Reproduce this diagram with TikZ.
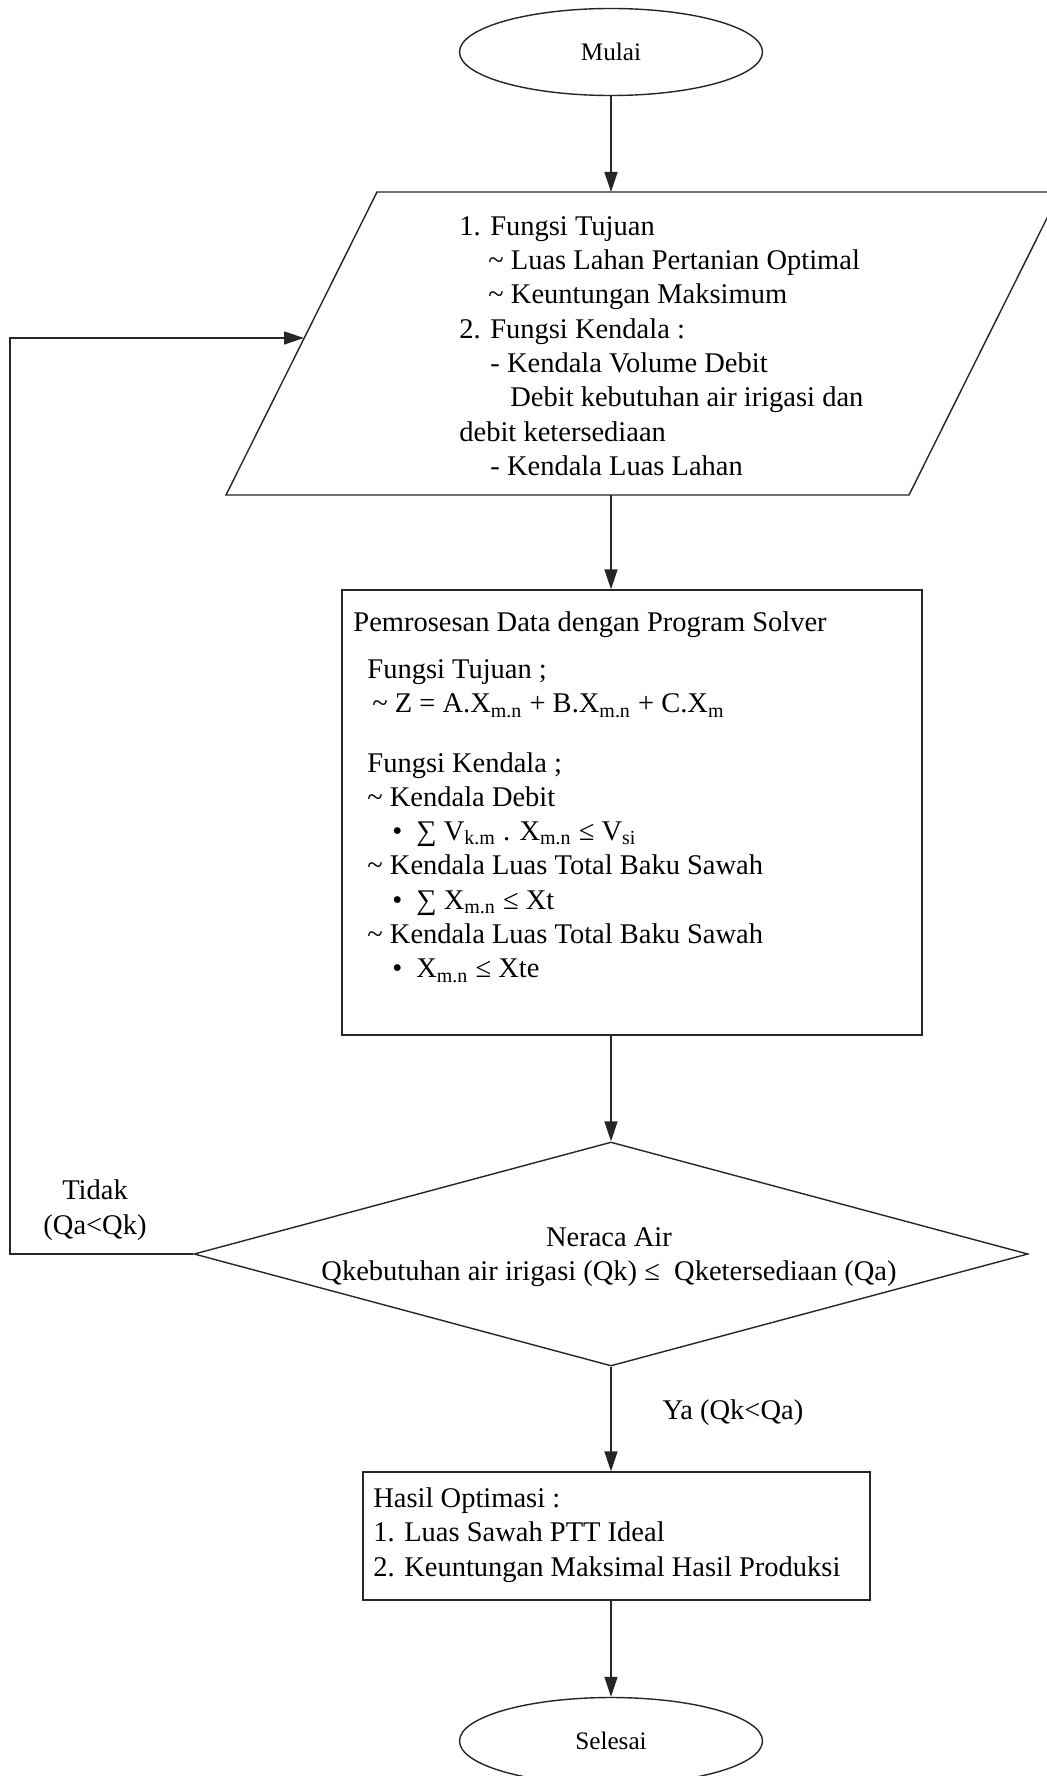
\documentclass[tikz,border=0pt]{standalone}
\usepackage{fontspec}
\setmainfont{Liberation Serif}
\usetikzlibrary{shapes.geometric,arrows.meta}
\begin{document}
\begin{tikzpicture}[x=0.5pt,y=-0.5pt,
  line/.style={line width=0.7pt, draw=black!85},
  arr/.style={line, -{Triangle[length=10pt,width=6.5pt]}},
  term/.style={ellipse, line, minimum width=151.5pt, minimum height=43.5pt, inner sep=0pt, font=\fontsize{12.6}{15}\selectfont},
  txt/.style={inner sep=0pt, align=left, anchor=west, font=\fontsize{14.25}{17.15}\selectfont},
  boxr/.style={rectangle, line, inner sep=0pt},
  ]
\useasboundingbox[fill=white] (0,0) rectangle (1046,1776);

% shapes
\node[term] (mulai) at (611,52) {Mulai};
\draw[line] (377,192) -- (1060,192) -- (909,495) -- (226,495) -- cycle;
\coordinate (ptop) at (611,192);
\coordinate (pbot) at (611,495);
\coordinate (pleft) at (304,338);
\node[boxr, minimum width=290pt, minimum height=222.5pt] (proc) at (632,812.5) {};
\node[diamond, line, minimum width=417pt, minimum height=112pt, inner sep=0pt] (dia) at (611,1254) {};
\node[boxr, minimum width=253.5pt, minimum height=64pt] (hasil) at (616.5,1536) {};
\node[term] (selesai) at (611,1741) {Selesai};

% texts
\node[txt] (ptext) at (459,346) {1. Fungsi Tujuan\\
\hspace*{14.5pt}\textasciitilde\ Luas Lahan Pertanian Optimal\\
\hspace*{14.5pt}\textasciitilde\ Keuntungan Maksimum\\
2. Fungsi Kendala :\\
\hspace*{15.5pt}- Kendala Volume Debit\\
\hspace*{25.5pt}Debit kebutuhan air irigasi dan\\
debit ketersediaan\\
\hspace*{15.5pt}- Kendala Luas Lahan};

\node[txt] (ptitle) at (353,625) {Pemrosesan Data dengan Program Solver};
\node[txt] (pbody) at (367,821) {Fungsi Tujuan ;\\
\hspace*{2.5pt}\textasciitilde\ Z = A.X\textsubscript{m.n} + B.X\textsubscript{m.n} + C.X\textsubscript{m}\\[12.5pt]
Fungsi Kendala ;\\
\textasciitilde\ Kendala Debit\\
\hspace*{12.5pt}•\hspace*{7pt}∑ V\textsubscript{k.m} . X\textsubscript{m.n} ≤ V\textsubscript{si}\\
\textasciitilde\ Kendala Luas Total Baku Sawah\\
\hspace*{12.5pt}•\hspace*{7pt}∑ X\textsubscript{m.n} ≤ Xt\\
\textasciitilde\ Kendala Luas Total Baku Sawah\\
\hspace*{12.5pt}•\hspace*{7pt}X\textsubscript{m.n} ≤ Xte};

\node[txt, anchor=center, align=center] (diatext) at (609,1257) {Neraca Air\\Qkebutuhan air irigasi (Qk) ≤\ \ Qketersediaan (Qa)};
\node[txt] (htext) at (373,1535) {Hasil Optimasi :\\1. Luas Sawah PTT Ideal\\2. Keuntungan Maksimal Hasil Produksi};
\node[txt, anchor=center, align=center] (tidak) at (95,1210) {Tidak\\(Qa<Qk)};
\node[txt, anchor=center] (ya) at (733,1413) {Ya (Qk<Qa)};

% connectors
\draw[arr] (mulai.south) -- (ptop);
\draw[arr] (pbot) -- (pbot |- proc.north);
\draw[arr] (proc.south -| dia.north) -- (dia.north);
\draw[arr] (dia.south) -- (dia.south |- hasil.north);
\draw[arr] (hasil.south -| selesai.north) -- (selesai.north);
\coordinate (lc) at (10,1254);
\coordinate (lt) at (10,338);
\draw[arr] (dia.west) -- (lc) -- (lt) -- (pleft);
\end{tikzpicture}
\end{document}
